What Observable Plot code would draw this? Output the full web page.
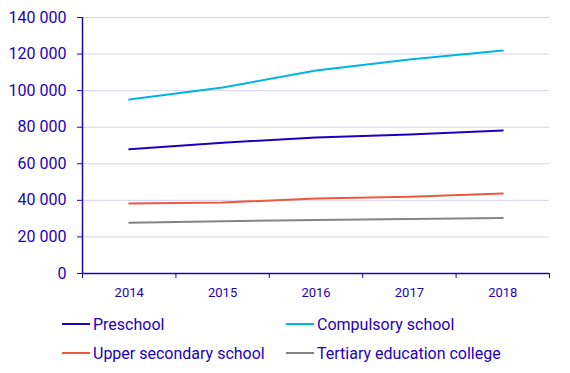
<!DOCTYPE html>
<html><head><meta charset="utf-8">
<script src="https://cdn.jsdelivr.net/npm/d3@7"></script>
<script src="https://cdn.jsdelivr.net/npm/@observablehq/plot@0.6"></script>
<style>
body{margin:0;background:#fff;font-family:Roboto,"Noto Sans",sans-serif;}
#wrap{width:570px;height:373px;position:relative;overflow:hidden;}
#legend{position:absolute;left:62px;top:312px;width:500px;display:grid;grid-template-columns:224px 260px;row-gap:5px;color:#1e00be;font-size:16px;}
.item{display:flex;align-items:center;height:24px;}
.sw{width:28px;height:2px;margin-right:3px;}
</style></head>
<body><div id="wrap"><div id="chart"></div><div id="legend"></div></div>
<script>
const years = [2014, 2015, 2016, 2017, 2018];
const seriesNames = ["Preschool", "Compulsory school", "Upper secondary school", "Tertiary education college"];
const preschool = [68000, 71500, 74400, 76000, 78200];
const compulsory = [95100, 101700, 111000, 117000, 121900];
const upperSecondary = [38300, 38800, 41000, 42000, 43800];
const tertiary = [27800, 28600, 29200, 29800, 30300];
const colors = ["#1e00be", "#00b4e6", "#f0583c", "#848484"];
const yTicks = [0, 20000, 40000, 60000, 80000, 100000, 120000, 140000];

const seriesValues = [preschool, compulsory, upperSecondary, tertiary];
const data = [];
seriesNames.forEach((s, i) => years.forEach((y, j) => data.push({series: s, year: y, value: seriesValues[i][j]})));
const bounds = [years[0] - 0.5, ...years.map(y => y + 0.5)];
const ink = "#1e00be";
const fmt = d => d3.format(",")(d).replace(/,/g, " ");

const chart = Plot.plot({
  width: 570, height: 305,
  marginLeft: 82, marginRight: 21, marginTop: 17, marginBottom: 32,
  style: {fontFamily: "Roboto, sans-serif", color: ink, background: "#fff"},
  x: {domain: [bounds[0], bounds[bounds.length - 1]]},
  y: {domain: [0, 140000]},
  color: {domain: seriesNames, range: colors},
  marks: [
    Plot.gridY(yTicks, {stroke: "#d4d2f0", strokeOpacity: 1}),
    Plot.ruleY([0], {stroke: ink, strokeWidth: 1.5}),
    Plot.ruleX([bounds[0]], {stroke: ink, strokeWidth: 1.5}),
    Plot.lineY(data, {x: "year", y: "value", z: "series", stroke: "series", strokeWidth: 2}),
    Plot.axisY(yTicks, {tickSize: 5, tickPadding: 11, tickFormat: fmt, fontSize: 16, stroke: ink, fill: ink, label: null}),
    Plot.axisX(bounds, {tickSize: 5, tickFormat: () => "", stroke: ink, label: null}),
    Plot.axisX(years, {tickSize: 0, tickPadding: 14, tickFormat: d => String(d), fontSize: 13, fill: ink, label: null, style: {letterSpacing: "1px"}})
  ]
});
document.getElementById("chart").appendChild(chart);

const legend = document.getElementById("legend");
seriesNames.forEach((s, i) => {
  const el = document.createElement("div");
  el.className = "item";
  el.innerHTML = `<span class="sw" style="background:${colors[i]}"></span><span>${s}</span>`;
  legend.appendChild(el);
});
</script></body></html>
